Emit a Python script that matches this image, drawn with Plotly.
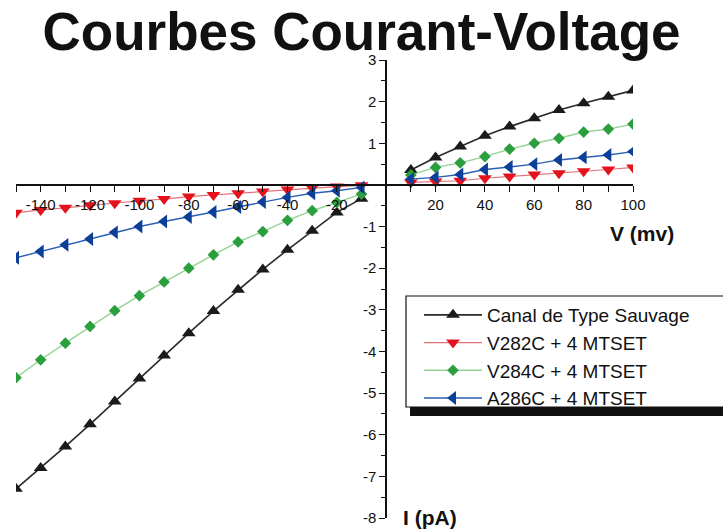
import plotly.graph_objects as go

# Voltage steps (mV)
voltage_neg = [-150, -140, -130, -120, -110, -100, -90, -80, -70, -60, -50, -40, -30, -20, -10]
voltage_pos = [10, 20, 30, 40, 50, 60, 70, 80, 90, 100]

# Currents (pA) for each channel
wild_neg = [-7.3, -6.8, -6.28, -5.75, -5.2, -4.65, -4.1, -3.56, -3.03, -2.52, -2.03, -1.56, -1.1, -0.66, -0.33]
wild_pos = [0.36, 0.66, 0.92, 1.18, 1.4, 1.6, 1.8, 1.96, 2.12, 2.27]

v282_neg = [-0.67, -0.6, -0.55, -0.49, -0.44, -0.38, -0.34, -0.28, -0.24, -0.2, -0.16, -0.11, -0.07, -0.04, -0.01]
v282_pos = [0.06, 0.08, 0.1, 0.16, 0.2, 0.25, 0.28, 0.33, 0.37, 0.42]

v284_neg = [-4.63, -4.2, -3.8, -3.4, -3.02, -2.66, -2.33, -2.0, -1.68, -1.37, -1.12, -0.85, -0.62, -0.42, -0.22]
v284_pos = [0.24, 0.42, 0.53, 0.68, 0.86, 1.0, 1.12, 1.27, 1.34, 1.46]

a286_neg = [-1.75, -1.6, -1.44, -1.3, -1.14, -1.0, -0.88, -0.77, -0.65, -0.53, -0.41, -0.3, -0.2, -0.14, -0.06]
a286_pos = [0.14, 0.18, 0.25, 0.37, 0.43, 0.5, 0.6, 0.66, 0.72, 0.8]

series_names = ["Canal de Type Sauvage", "V282C + 4 MTSET", "V284C + 4 MTSET", "A286C + 4 MTSET"]

x_tick_vals = [-140, -120, -100, -80, -60, -40, -20, 20, 40, 60, 80, 100]
y_tick_vals = [-8, -7, -6, -5, -4, -3, -2, -1, 1, 2, 3]

X_MIN, X_MAX = -150, 100
Y_MIN, Y_MAX = -8, 3

# Plot-area geometry in pixels (used to place paper-referenced decorations)
FIG_W, FIG_H = 723, 531
M_L, M_R, M_T, M_B = 16, 90, 60, 13
PLOT_W = FIG_W - M_L - M_R
PLOT_H = FIG_H - M_T - M_B


def px_x(px):
    return (px - M_L) / PLOT_W


def px_y(py):
    return (FIG_H - M_B - py) / PLOT_H


# Negative and positive branches are separate recordings: leave a gap at 0 mV
voltage_all = voltage_neg + [None] + voltage_pos


def joined(neg, pos):
    return neg + [None] + pos


styles = [
    dict(symbol="triangle-up", size=12, mcolor="#1a1a1a", lcolor="#2a2a2a", lwidth=1.6),
    dict(symbol="triangle-down", size=12, mcolor="#e3121c", lcolor="#e4707a", lwidth=1.2),
    dict(symbol="diamond", size=9, mcolor="#2b9e3e", lcolor="#93d393", lwidth=1.4),
    dict(symbol="triangle-left", size=12, mcolor="#0c3f98", lcolor="#2a5fb5", lwidth=1.4),
]
currents = [
    joined(wild_neg, wild_pos),
    joined(v282_neg, v282_pos),
    joined(v284_neg, v284_pos),
    joined(a286_neg, a286_pos),
]

fig = go.Figure()
for name, ys, st in zip(series_names, currents, styles):
    fig.add_trace(go.Scatter(
        x=voltage_all, y=ys, name=name, mode="lines+markers",
        connectgaps=False,
        line=dict(color=st["lcolor"], width=st["lwidth"]),
        marker=dict(symbol=st["symbol"], size=st["size"], color=st["mcolor"],
                    line=dict(width=0)),
    ))

font_family = "Liberation Sans, Arial, sans-serif"
axis_color = "#111111"

x_minor = [v for v in range(X_MIN, X_MAX + 1, 10) if v % 20 != 0]
y_minor = [v + 0.5 for v in range(Y_MIN, Y_MAX)]

fig.update_layout(
    width=FIG_W, height=FIG_H,
    margin=dict(l=M_L, r=M_R, t=M_T, b=M_B),
    paper_bgcolor="white", plot_bgcolor="white",
    font=dict(family=font_family, color=axis_color),
    title=dict(text="<b>Courbes Courant-Voltage</b>",
               font=dict(size=53, family=font_family, color="#111111"),
               x=0.5, xref="container", xanchor="center",
               y=1 - 31 / FIG_H, yref="container", yanchor="middle"),
    xaxis=dict(
        range=[X_MIN, X_MAX], anchor="free", automargin=False,
        position=(0 - Y_MIN) / (Y_MAX - Y_MIN),
        showgrid=False, zeroline=False,
        showline=True, linecolor=axis_color, linewidth=1.5,
        tickmode="array", tickvals=x_tick_vals,
        ticktext=[str(v) for v in x_tick_vals],
        ticks="outside", ticklen=6, tickwidth=1.3, tickcolor=axis_color,
        tickfont=dict(size=15, color=axis_color),
        minor=dict(tickmode="array", tickvals=x_minor, ticks="outside",
                   ticklen=6, tickwidth=1.3, tickcolor=axis_color),
    ),
    yaxis=dict(
        range=[Y_MIN, Y_MAX], anchor="free", automargin=False,
        position=(0 - X_MIN) / (X_MAX - X_MIN),
        showgrid=False, zeroline=False,
        showline=True, linecolor=axis_color, linewidth=1.5,
        tickmode="array", tickvals=y_tick_vals,
        ticktext=[str(v) for v in y_tick_vals],
        ticks="outside", ticklen=6, tickwidth=1.3, tickcolor=axis_color,
        tickfont=dict(size=15, color=axis_color),
        minor=dict(tickmode="array", tickvals=y_minor, ticks="outside",
                   ticklen=4, tickwidth=1.2, tickcolor=axis_color),
    ),
    legend=dict(
        x=px_x(419), y=px_y(296), xanchor="left", yanchor="top",
        bgcolor="rgba(0,0,0,0)", borderwidth=0,
        font=dict(size=19, family=font_family, color="#111111"),
        itemwidth=58, tracegroupgap=0,
    ),
    showlegend=True,
)

# Legend frame (runs off the right edge) and its drop shadow
fig.add_shape(type="rect", xref="paper", yref="paper",
              x0=px_x(410), x1=px_x(745), y0=px_y(416), y1=px_y(407),
              fillcolor="#111111", line=dict(width=0), layer="above")
fig.add_shape(type="rect", xref="paper", yref="paper",
              x0=px_x(406), x1=px_x(740), y0=px_y(407), y1=px_y(296),
              fillcolor="white", line=dict(color="#111111", width=1.2), layer="above")

# Axis titles
fig.add_annotation(text="<b>V (mv)</b>", xref="paper", yref="paper",
                   x=px_x(642), y=px_y(233),
                   xanchor="center", yanchor="middle", showarrow=False,
                   font=dict(size=21, family=font_family, color="#111111"))
fig.add_annotation(text="<b>I (pA)</b>", xref="paper", yref="paper",
                   x=px_x(430), y=px_y(517),
                   xanchor="center", yanchor="middle", showarrow=False,
                   font=dict(size=21, family=font_family, color="#111111"))

fig.write_html("out.html")
